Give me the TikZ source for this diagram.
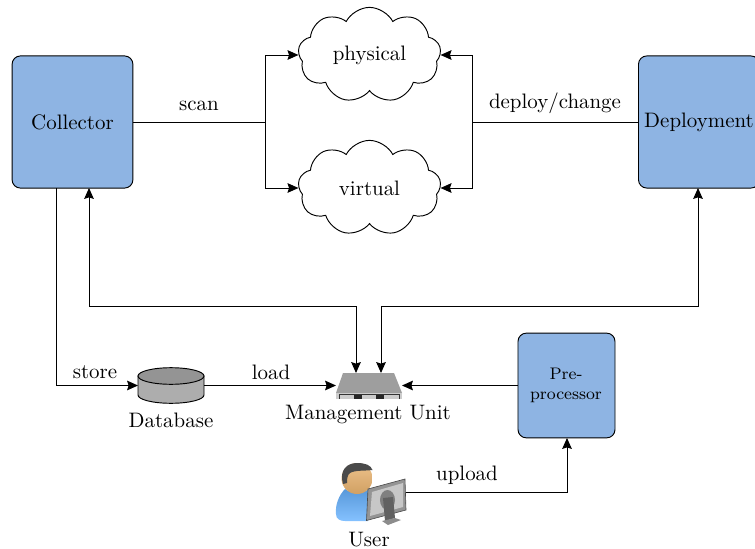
\documentclass[tikz,border=0pt]{standalone}
\usetikzlibrary{shapes.symbols}
\usetikzlibrary{arrows.meta}
\definecolor{boxblue}{HTML}{8EB4E3}
\definecolor{userblue}{HTML}{66B2FF}
\definecolor{skin}{HTML}{E8B26E}
\definecolor{hair}{HTML}{4A4A4A}
\tikzset{
	tip/.tip = {Stealth[length=5.2pt,width=4.6pt,inset=0.7pt]},
	unit/.style = {draw,rounded corners=4pt,fill=boxblue,inner sep=0pt,line width=0.45pt},
	area/.style = {draw,cloud,cloud puffs=9,cloud puff arc=125,aspect=1.45,minimum width=2.4cm,minimum height=1.6cm,inner sep=0pt,line width=0.45pt},
	link/.style = {line width=0.45pt},
	arrow/.style = {-tip,line width=0.45pt},
	both/.style = {tip-tip,line width=0.45pt},
	icon/.style = {inner sep=0pt,outer sep=0pt}
}
\begin{document}
\begin{tikzpicture}[x=0.0168cm,y=-0.0168cm]
		\useasboundingbox (0,0) rectangle (755,549);
		% boxes
		\node[unit,minimum width=2.03cm,minimum height=2.22cm] (collector) at (72.5,122){Collector};
		\node[unit,minimum width=2.03cm,minimum height=2.22cm,anchor=west] (deployment) at (638,122){};
		\node (deploytext) at (699,122){Deployment};
		\node[unit,minimum width=1.63cm,minimum height=1.76cm] (prep) at (566.5,385.5){};
		\node[align=center,font=\footnotesize] (preptext) at (566,385){Pre-\\processor};
		% clouds
		\node[area] (physical) at (369.5,55){physical};
		\node[area] (virtual) at (369.5,188){virtual};
		% database
		\node[icon,minimum width=1.109cm,minimum height=0.62cm] (db) at (171,385.5){};
		\draw[fill=black!32,line width=0.45pt] (138,376) -- (138,395) arc[start angle=180,end angle=360,x radius=33,y radius=-8.3] -- (204,376) -- cycle;
		\draw[fill=black!42,line width=0.45pt] (171,376) ellipse (33 and 8.3);
		\node (dblabel) at (171,420){Database};
		% management unit
		\node[icon,minimum width=1.109cm,minimum height=0.44cm] (server) at (369,385.5){};
		\fill[black!38] (343,373) -- (394,373) -- (402,393) -- (336,393) -- cycle;
		\fill[black!20] (336,393) rectangle (402,398.5);
		\draw[black!80,line width=0.4pt] (339,398.5) -- (339,394.5) -- (399,394.5) -- (399,398.5);
		\fill[black!85] (354,395) rectangle (362,398.5);
		\fill[black!85] (376,395) rectangle (384,398.5);
		\node (serverlabel) at (368,414.5){Management Unit};
		% user
		\node[icon,minimum width=1.18cm,minimum height=1.08cm] (user) at (371,492){};
		\shade[top color=userblue!85!black,bottom color=userblue!80!white] (345,489) .. controls (339,495) and (335,505) .. (336,514) .. controls (336,519) and (340,521) .. (345,521) -- (368,521) -- (370,488) .. controls (362,495) and (352,494) .. (345,489) -- cycle;
		\shade[top color=skin!80!white,bottom color=skin!90!black] (357,478.5) circle (15.5);
		\fill[hair] (343,484) .. controls (339,470) and (347,463) .. (357,463) .. controls (365,463) and (371,465) .. (372.5,470) .. controls (365,471) and (355,470) .. (350,473) .. controls (347,475) and (347,480) .. (347,483) -- cycle;
		\fill[black!42,draw=black!70,line width=0.3pt] (368,489) -- (405,479) -- (406,510) -- (366.5,520.5) -- cycle;
		\fill[black!22] (372,492) -- (403,483) -- (403,507) -- (370,516) -- cycle;
		\fill[black!50] (387.5,500) ellipse (7.5 and 10);
		\fill[black!62] (383,498) -- (393,497) -- (395,518) -- (385,521) -- cycle;
		\fill[black!45] (382,521) -- (395,518) -- (401,520) -- (388,525) -- cycle;
		\node (userlabel) at (369,540){User};
		% junctions
		\coordinate (scanj) at (265,122);
		\coordinate (deployj) at (472,122);
		\coordinate (colup) at (89,188);
		\coordinate (colstore) at (56,188);
		\coordinate (depup) at (698,188);
		\coordinate (srvl) at (356,373);
		\coordinate (srvr) at (381,373);
		\coordinate (prepin) at (567,438);
		\coordinate (c1) at (89,306);
		\coordinate (c2) at (356,306);
		\coordinate (c3) at (381,306);
		\coordinate (c4) at (698,306);
		\coordinate (c5) at (56,385.5);
		\coordinate (c6) at (567,492);
		% connectors
		\draw[link] (collector.east) -- (scanj);
		\draw[arrow] (scanj) |- (physical.west);
		\draw[arrow] (scanj) |- (virtual.west);
		\draw[link] (deployment.west) -- (deployj);
		\draw[arrow] (deployj) |- (physical.east);
		\draw[arrow] (deployj) |- (virtual.east);
		\draw[both] (colup) -- (c1) -- (c2) -- (srvl);
		\draw[both] (depup) -- (c4) -- (c3) -- (srvr);
		\draw[arrow] (colstore) -- (c5) -- (db.west);
		\draw[arrow] (db.east) -- (server.west);
		\draw[arrow] (prep.west |- server.east) -- (server.east);
		\draw[arrow] (user.east) -- (c6) -- (prepin);
		% labels
		\node (scanl) at (199,105.5){scan};
		\node (deployl) at (555,103){deploy/change};
		\node (storel) at (95,372){store};
		\node (loadl) at (271,372){load};
		\node (uploadl) at (467,475){upload};
\end{tikzpicture}
\end{document}
